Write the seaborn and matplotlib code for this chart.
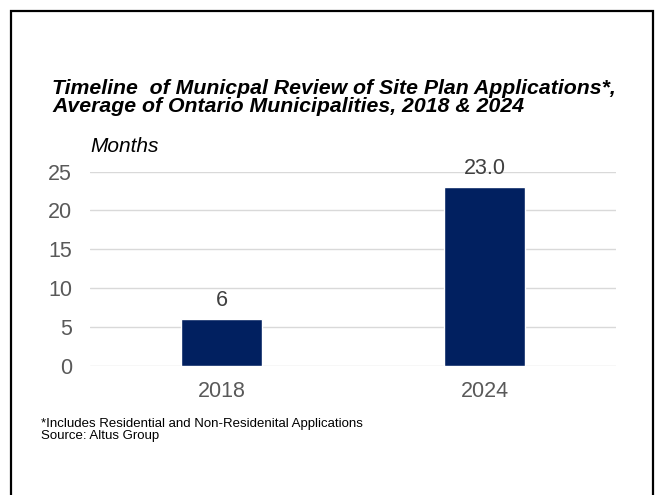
import matplotlib
matplotlib.use("Agg")
import matplotlib.pyplot as plt
from matplotlib.patches import Rectangle
import seaborn as sns
import pandas as pd

years = ["2018", "2024"]
months = [6, 23.0]
value_labels = ["6", "23.0"]
y_ticks = [0, 5, 10, 15, 20, 25]

sns.set_theme(style="white")
plt.rcParams["font.family"] = ["Liberation Sans", "DejaVu Sans"]

W, H = 655, 495
fig = plt.figure(figsize=(W / 100, H / 100), dpi=100)
ax = fig.add_axes([90 / W, 1 - 366 / H, 526 / W, 194.5 / H])

df = pd.DataFrame({"year": years, "months": months})
sns.barplot(data=df, x="year", y="months", color="#012060", width=0.31,
            saturation=1, ax=ax, zorder=3)

ax.set_xlim(-0.5, 1.5)
ax.set_ylim(0, 25)
ax.set_yticks(y_ticks)
ax.yaxis.grid(True, color="#d9d9d9", linewidth=1)
ax.set_axisbelow(True)
for s in ax.spines.values():
    s.set_visible(False)
ax.set_xlabel("")
ax.set_ylabel("")
ax.tick_params(axis="both", length=0, labelsize=15.5, labelcolor="#595959")
ax.tick_params(axis="y", pad=13)
ax.tick_params(axis="x", pad=11)

for i, (v, lab) in enumerate(zip(months, value_labels)):
    ax.annotate(lab, (i, v), xytext=(0, 6), textcoords="offset points",
                ha="center", va="bottom", fontsize=15.5, color="#404040")

fig.text(52 / W, 1 - 97.5 / H,
         "Timeline  of Municpal Review of Site Plan Applications*,\n"
         "Average of Ontario Municipalities, 2018 & 2024",
         fontsize=15.3, fontweight="bold", fontstyle="italic", color="black",
         ha="left", va="center", linespacing=0.95)
fig.text(90 / W, 1 - 146 / H, "Months", fontsize=15, fontstyle="italic",
         color="black", ha="left", va="center")
fig.text(41 / W, 1 - 430 / H,
         "*Includes Residential and Non-Residenital Applications\nSource: Altus Group",
         fontsize=9.5, color="black", ha="left", va="center", linespacing=1.05)

fig.patches.append(Rectangle((11 / W, -10 / H), 642 / W, (H - 11 + 10) / H,
                             transform=fig.transFigure, fill=False,
                             edgecolor="black", linewidth=1.6))

fig.savefig("out.png", dpi=100, facecolor="white")
